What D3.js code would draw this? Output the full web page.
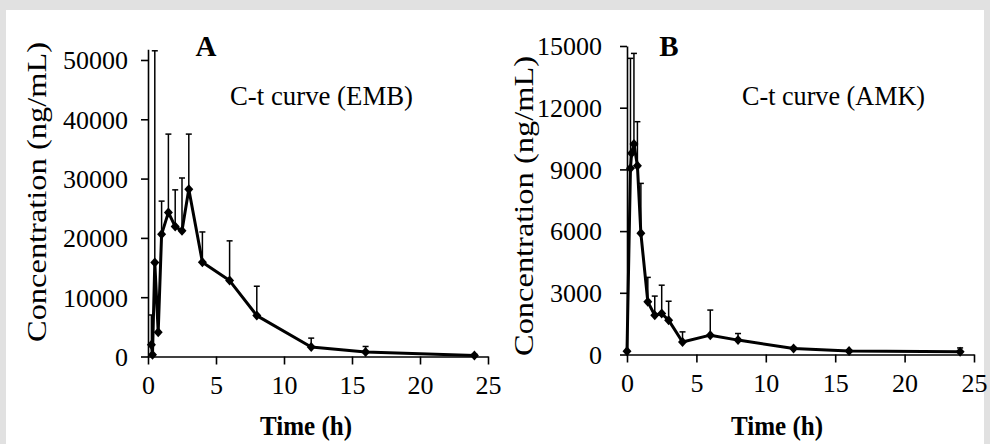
<!DOCTYPE html>
<html>
<head>
<meta charset="utf-8">
<script src="https://cdn.jsdelivr.net/npm/d3@7"></script>
<style>
  body { margin: 0; background: #e1e1e1; }
  svg { display: block; }
  text { font-family: "Liberation Serif", "Times New Roman", serif; fill: #000; }
</style>
</head>
<body>
<div id="chart"></div>
<script>
// chart size, same as the window
const width = 990;
const height = 444;

// panel A: ethambutol
const timeA = [0.25, 0.33, 0.5, 0.75, 1, 1.5, 2, 2.5, 3, 4, 6, 8, 12, 16, 24];
const concA = [2000, 300, 15850, 4100, 20600, 24300, 21900, 21200, 28200, 15900, 12800, 6900, 1600, 740, 170];
const errA  = [5000, 0, 35700, 0, 5600, 13200, 6200, 8900, 9300, 5100, 6700, 4950, 1500, 950, 200];
const yTicksA = [0, 10000, 20000, 30000, 40000, 50000];

// panel B: amikacin
const timeB = [0, 0.25, 0.33, 0.5, 0.75, 1, 1.5, 2, 2.5, 3, 4, 6, 8, 12, 16, 24];
const concB = [160, 9050, 9780, 10230, 9180, 5890, 2560, 1910, 1990, 1670, 610, 940, 700, 290, 175, 130];
const errB  = [0, 5350, 0, 4410, 2140, 2430, 1190, 930, 1380, 920, 490, 1220, 320, 60, 40, 190];
const yTicksB = [0, 3000, 6000, 9000, 12000, 15000];

const xTicks = [0, 5, 10, 15, 20, 25];

const svg = d3.select("#chart")
  .append("svg")
  .attr("width", width)
  .attr("height", height);

// white card over the grey page
svg.append("rect")
  .attr("x", 6).attr("y", 10)
  .attr("width", 978).attr("height", height - 10)
  .attr("fill", "#fff");

const diamond = "M0,-5L4.5,0L0,5L-4.5,0Z";

function drawPanel(opt) {
  const x = d3.scaleLinear().domain([0, 25]).range(opt.xRange);
  const y = d3.scaleLinear().domain(opt.yDomain).range(opt.yRange);
  const g = svg.append("g");

  // y axis
  const yAxis = g.append("g")
    .attr("transform", `translate(${opt.xRange[0]},0)`)
    .call(d3.axisLeft(y).tickValues(opt.yTicks).tickSize(7).tickSizeOuter(0).tickPadding(opt.yPad).tickFormat(d3.format("d")));
  yAxis.select(".domain").attr("stroke-width", 1.6);
  yAxis.selectAll(".tick line").attr("stroke-width", 1.6);
  yAxis.selectAll("text").style("font-size", "26px").attr("dy", "0.34em");

  // x axis
  const xAxis = g.append("g")
    .attr("transform", `translate(0,${opt.yRange[0]})`)
    .call(d3.axisBottom(x).tickValues(xTicks).tickSize(8).tickSizeOuter(0).tickPadding(11));
  xAxis.select(".domain").attr("stroke-width", 1.6);
  xAxis.selectAll(".tick line").attr("stroke-width", 1.6);
  xAxis.selectAll("text").style("font-size", "26px");

  // error bars (upper only)
  const pts = opt.time.map((t, i) => ({t: t, c: opt.conc[i], e: opt.err[i]}));
  const eb = g.append("g").attr("stroke", "#000").attr("stroke-width", 1.5);
  eb.selectAll("line.bar")
    .data(pts.filter(d => d.e > 0))
    .join("line")
    .attr("class", "bar")
    .attr("x1", d => x(d.t)).attr("x2", d => x(d.t))
    .attr("y1", d => y(d.c)).attr("y2", d => y(d.c + d.e));
  eb.selectAll("line.cap")
    .data(pts.filter(d => d.e > 0))
    .join("line")
    .attr("class", "cap")
    .attr("x1", d => x(d.t) - 3).attr("x2", d => x(d.t) + 3)
    .attr("y1", d => y(d.c + d.e)).attr("y2", d => y(d.c + d.e));

  // mean curve
  g.append("path")
    .datum(pts)
    .attr("fill", "none")
    .attr("stroke", "#000")
    .attr("stroke-width", 3)
    .attr("stroke-linejoin", "round")
    .attr("d", d3.line().x(d => x(d.t)).y(d => y(d.c)));

  g.selectAll("path.mark")
    .data(pts)
    .join("path")
    .attr("class", "mark")
    .attr("d", diamond)
    .attr("transform", d => `translate(${x(d.t)},${y(d.c)})`)
    .attr("fill", "#000");

  // panel letter and caption
  g.append("text")
    .attr("x", opt.letterX).attr("y", 56)
    .attr("text-anchor", "middle")
    .style("font-size", "29px").style("font-weight", "bold")
    .text(opt.letter);
  g.append("text")
    .attr("x", opt.captionX).attr("y", 105)
    .attr("textLength", 183).attr("lengthAdjust", "spacingAndGlyphs")
    .style("font-size", "27px")
    .text(opt.caption);

  // axis titles
  g.append("text")
    .attr("transform", `translate(${opt.yTitleX},${opt.yTitleY}) rotate(-90)`)
    .attr("text-anchor", "middle")
    .attr("textLength", 300).attr("lengthAdjust", "spacingAndGlyphs")
    .style("font-size", "27px")
    .text("Concentration (ng/mL)");
  g.append("text")
    .attr("x", opt.xTitleX).attr("y", 435)
    .attr("text-anchor", "middle")
    .attr("textLength", 92).attr("lengthAdjust", "spacingAndGlyphs")
    .style("font-size", "27px").style("font-weight", "bold")
    .text("Time (h)");
}

drawPanel({
  time: timeA, conc: concA, err: errA, yTicks: yTicksA, yPad: 13,
  xRange: [148, 488], yDomain: [0, 51800], yRange: [356.5, 49.3],
  letter: "A", letterX: 206, caption: "C-t curve (EMB)", captionX: 230,
  yTitleX: 46, yTitleY: 192, xTitleX: 306
});

drawPanel({
  time: timeB, conc: concB, err: errB, yTicks: yTicksB, yPad: 18,
  xRange: [627, 974], yDomain: [0, 15000], yRange: [354.5, 46],
  letter: "B", letterX: 669, caption: "C-t curve (AMK)", captionX: 742,
  yTitleX: 533, yTitleY: 206, xTitleX: 777
});
</script>
</body>
</html>
